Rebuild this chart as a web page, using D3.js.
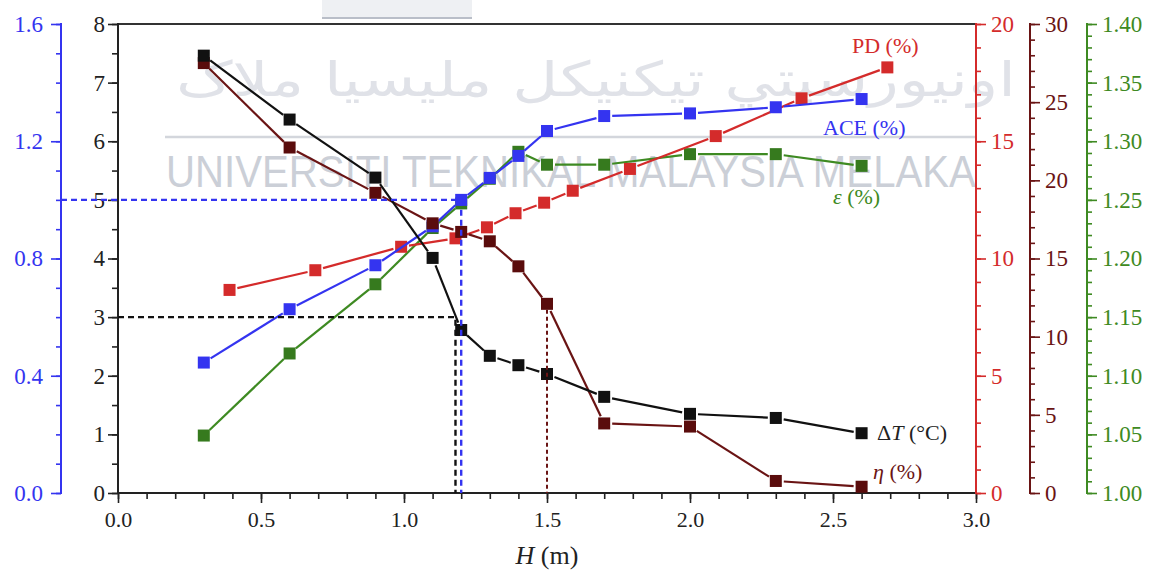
<!DOCTYPE html>
<html>
<head>
<meta charset="utf-8">
<script src="https://cdn.jsdelivr.net/npm/d3@7"></script>
<style>
  html, body { margin: 0; padding: 0; background: #fff; }
  svg { display: block; font-family: "Liberation Serif", "Times New Roman", serif; }
</style>
</head>
<body>
<svg id="chart" width="1157" height="575"></svg>
<script>
// Height H (m) for the sampled stations
const H = [0.3, 0.6, 0.9, 1.1, 1.2, 1.3, 1.4, 1.5, 1.7, 2.0, 2.3, 2.6];
// Temperature difference ΔT (°C), black axis
const deltaT = [7.46, 6.37, 5.38, 4.01, 2.78, 2.34, 2.18, 2.03, 1.64, 1.35, 1.28, 1.02];
// Efficiency η (%), maroon axis
const eta = [27.5, 22.1, 19.2, 17.25, 16.7, 16.1, 14.5, 12.1, 4.45, 4.25, 0.77, 0.40];
// ACE (%), blue axis
const ace = [0.445, 0.627, 0.777, 0.91, 1.0, 1.075, 1.15, 1.235, 1.286, 1.295, 1.316, 1.344];
// ε (%), green axis
const eps = [1.049, 1.119, 1.178, 1.226, 1.247, 1.268, 1.291, 1.28, 1.28, 1.289, 1.289, 1.279];
// Pressure drop PD (%), red axis, sampled at its own heights
const hPD = [0.39, 0.69, 0.99, 1.18, 1.29, 1.39, 1.49, 1.59, 1.79, 2.09, 2.39, 2.69];
const pd = [8.66, 9.5, 10.5, 10.86, 11.33, 11.93, 12.38, 12.89, 13.82, 15.22, 16.83, 18.15];

// Reference read-offs: ΔT = 3 at H = 1.18, ACE = 1.0 at H = 1.2, η at H = 1.5
const refDeltaT = [1.18, 3];
const refAce = [1.2, 1.0];
const refEtaH = 1.5;

// Tick values
const xTicks = [0, 0.5, 1.0, 1.5, 2.0, 2.5, 3.0];
const blackTicks = [0, 1, 2, 3, 4, 5, 6, 7, 8];
const blueTicks = [0, 0.4, 0.8, 1.2, 1.6];
const redTicks = [0, 5, 10, 15, 20];
const maroonTicks = [0, 5, 10, 15, 20, 25, 30];
const greenTicks = [1.00, 1.05, 1.10, 1.15, 1.20, 1.25, 1.30, 1.35, 1.40];

const C = {
  black: "#111111",
  blue: "#3434f0",
  red: "#d42b2b",
  maroon: "#6a1414",
  maroonMark: "#5a0c0c",
  green: "#3e8a22",
  greenMark: "#367a1e"
};

const SERIF = "'Liberation Serif', 'Times New Roman', serif";

const svg = d3.select("#chart");
const plot = { left: 118, right: 976, top: 24, bottom: 493 };

const x = d3.scaleLinear().domain([0, 3]).range([plot.left, plot.right]);
const yBlack = d3.scaleLinear().domain([0, 8]).range([plot.bottom, plot.top]);
const yBlue = d3.scaleLinear().domain([0, 1.6]).range([plot.bottom, plot.top]);
const yRed = d3.scaleLinear().domain([0, 20]).range([plot.bottom, plot.top]);
const yMaroon = d3.scaleLinear().domain([0, 30]).range([plot.bottom, plot.top]);
const yGreen = d3.scaleLinear().domain([1.0, 1.4]).range([plot.bottom, plot.top]);

// ---- faint background watermark ----
// Text squeezed horizontally to a fixed span with a transform
function fittedText(g, str, x0, baseline, width, size, family, fill) {
  const t = g.append("text").attr("x", 0).attr("y", 0)
    .style("font-family", family).attr("font-size", size).attr("fill", fill).text(str);
  const w = t.node().getComputedTextLength();
  t.attr("transform", `translate(${x0},${baseline}) scale(${width / w},1)`);
  return t;
}
const wm = svg.append("g").attr("pointer-events", "none");
wm.append("rect").attr("x", 322).attr("y", 0).attr("width", 150).attr("height", 18).attr("fill", "#eef0f3");
wm.append("line").attr("x1", 322).attr("x2", 472).attr("y1", 18).attr("y2", 18).attr("stroke", "#b9bec8").attr("stroke-width", 2);
fittedText(wm, "اونيورسيتي تيکنيکل مليسيا ملاک", 176, 96, 840, 48, "'DejaVu Sans', sans-serif", "#e0e2e8");
wm.append("line").attr("x1", 165).attr("x2", 975).attr("y1", 137).attr("y2", 137)
  .attr("stroke", "#d3d6dc").attr("stroke-width", 2.5);
fittedText(wm, "UNIVERSITI TEKNIKAL MALAYSIA MELAKA", 166, 187, 810, 45, "'Liberation Sans', Arial, sans-serif", "#cbcfd7");

// ---- axes ----
function styleAxis(g, color, fontSize) {
  g.select(".domain").remove();
  g.attr("font-family", null).attr("font-size", null);
  g.selectAll(".tick line").attr("stroke", color).attr("stroke-width", 1.6);
  g.selectAll(".tick text").attr("fill", color).attr("font-size", fontSize)
    .style("font-family", SERIF);
}

function axisLine(x1, y1, x2, y2, color, w) {
  svg.append("line").attr("x1", x1).attr("y1", y1).attr("x2", x2).attr("y2", y2)
    .attr("stroke", color).attr("stroke-width", w || 2).attr("stroke-linecap", "square");
}

function minorValues(domain, step) {
  const out = [];
  const n = Math.round((domain[1] - domain[0]) / step);
  for (let i = 0; i <= n; i++) out.push(+(domain[0] + i * step).toFixed(4));
  return out;
}

// frame top
axisLine(plot.left, plot.top, plot.right, plot.top, "#333", 2);

// x axis
{
  const gMin = svg.append("g").attr("transform", `translate(0,${plot.bottom})`)
    .call(d3.axisBottom(x).tickValues(minorValues([0, 3], 0.1)).tickFormat("").tickSize(6).tickSizeOuter(0));
  styleAxis(gMin, "#222", 20);
  const g = svg.append("g").attr("transform", `translate(0,${plot.bottom})`)
    .call(d3.axisBottom(x).tickValues(xTicks).tickFormat(d3.format(".1f")).tickSize(10).tickSizeOuter(0).tickPadding(8));
  styleAxis(g, "#222", 22);
  axisLine(plot.left, plot.bottom, plot.right, plot.bottom, "#222", 2);
  const t = svg.append("text").attr("x", x(1.5)).attr("y", 564).attr("text-anchor", "middle")
    .style("font-family", SERIF).attr("font-size", 26).attr("fill", "#222");
  t.append("tspan").attr("font-style", "italic").text("H");
  t.append("tspan").text(" (m)");
}

// black left axis (ΔT)
{
  const gMin = svg.append("g").attr("transform", `translate(${plot.left},0)`)
    .call(d3.axisLeft(yBlack).tickValues(minorValues([0, 8], 0.5)).tickFormat("").tickSize(6).tickSizeOuter(0));
  styleAxis(gMin, "#222", 20);
  const g = svg.append("g").attr("transform", `translate(${plot.left},0)`)
    .call(d3.axisLeft(yBlack).tickValues(blackTicks).tickFormat(d3.format("d")).tickSize(10).tickSizeOuter(0).tickPadding(3));
  styleAxis(g, "#222", 23);
  axisLine(plot.left, plot.top, plot.left, plot.bottom, "#222", 2);
}

// blue left axis (ACE)
{
  const bx = 61;
  const gMin = svg.append("g").attr("transform", `translate(${bx},0)`)
    .call(d3.axisLeft(yBlue).tickValues(minorValues([0, 1.6], 0.1)).tickFormat("").tickSize(5).tickSizeOuter(0));
  styleAxis(gMin, C.blue, 20);
  const g = svg.append("g").attr("transform", `translate(${bx},0)`)
    .call(d3.axisLeft(yBlue).tickValues(blueTicks).tickFormat(d3.format(".1f")).tickSize(10).tickSizeOuter(0).tickPadding(8));
  styleAxis(g, C.blue, 23);
  axisLine(bx, plot.top, bx, plot.bottom, C.blue, 2);
}

// right axes
function rightAxis(xPos, scale, majors, minorStep, fmt, color) {
  const d = scale.domain();
  const gMin = svg.append("g").attr("transform", `translate(${xPos},0)`)
    .call(d3.axisRight(scale).tickValues(minorValues(d, minorStep)).tickFormat("").tickSize(5).tickSizeOuter(0));
  styleAxis(gMin, color, 20);
  const g = svg.append("g").attr("transform", `translate(${xPos},0)`)
    .call(d3.axisRight(scale).tickValues(majors).tickFormat(fmt).tickSize(10).tickSizeOuter(0).tickPadding(5));
  styleAxis(g, color, 23);
  axisLine(xPos, plot.top, xPos, plot.bottom, color, 2);
}
rightAxis(plot.right, yRed, redTicks, 1, d3.format("d"), C.red);
rightAxis(1030, yMaroon, maroonTicks, 1, d3.format("d"), C.maroon);
rightAxis(1087, yGreen, greenTicks, 0.01, d3.format(".2f"), C.green);

// ---- series ----
function drawSeries(xs, ys, yScale, lineColor, markColor, gap) {
  const g = svg.append("g");
  const pts = xs.map((h, i) => [x(h), yScale(ys[i])]);
  for (let i = 0; i < pts.length - 1; i++) {
    const [x1, y1] = pts[i], [x2, y2] = pts[i + 1];
    const len = Math.hypot(x2 - x1, y2 - y1);
    if (len <= 2 * gap) continue;
    const ux = (x2 - x1) / len, uy = (y2 - y1) / len;
    g.append("line")
      .attr("x1", x1 + ux * gap).attr("y1", y1 + uy * gap)
      .attr("x2", x2 - ux * gap).attr("y2", y2 - uy * gap)
      .attr("stroke", lineColor).attr("stroke-width", 2.2);
  }
  g.selectAll("rect").data(pts).join("rect")
    .attr("x", d => d[0] - 6).attr("y", d => d[1] - 6)
    .attr("width", 12).attr("height", 12)
    .attr("fill", markColor);
}

drawSeries(H, eps, yGreen, C.green, C.greenMark, 8);
drawSeries(hPD, pd, yRed, C.red, C.red, 8);
drawSeries(H, ace, yBlue, C.blue, C.blue, 8);
drawSeries(H, eta, yMaroon, C.maroon, C.maroonMark, 8);
drawSeries(H, deltaT, yBlack, C.black, C.black, 8);

// ---- reference read-off lines ----
function dashed(pathPts, color, dash, w) {
  svg.append("path").attr("d", d3.line()(pathPts)).attr("fill", "none")
    .attr("stroke", color).attr("stroke-width", w).attr("stroke-dasharray", dash);
}
dashed([[plot.left, yBlack(refDeltaT[1])], [x(refDeltaT[0]), yBlack(refDeltaT[1])], [x(refDeltaT[0]), plot.bottom]],
  C.black, "6,4", 2.4);
dashed([[61, yBlue(refAce[1])], [x(refAce[0]), yBlue(refAce[1])], [x(refAce[0]), plot.bottom]],
  C.blue, "6,4", 2.4);
const etaAt = eta[H.indexOf(refEtaH)];
dashed([[x(refEtaH), yMaroon(etaAt) + 6], [x(refEtaH), plot.bottom]], C.maroon, "4,3", 2);

// ---- series labels ----
function label(xp, yp, color, parts) {
  const t = svg.append("text").attr("x", xp).attr("y", yp).style("font-family", SERIF)
    .attr("font-size", 22).attr("fill", color);
  parts.forEach(p => t.append("tspan").attr("font-style", p[1] ? "italic" : "normal").text(p[0]));
}
label(852, 53, C.red, [["PD (%)", false]]);
label(823, 135, C.blue, [["ACE (%)", false]]);
label(833, 204, C.green, [["ε", true], [" (%)", false]]);
label(877, 440, "#222", [["Δ", false], ["T", true], [" (°C)", false]]);
label(873, 479, C.maroon, [["η", true], [" (%)", false]]);
</script>
</body>
</html>
